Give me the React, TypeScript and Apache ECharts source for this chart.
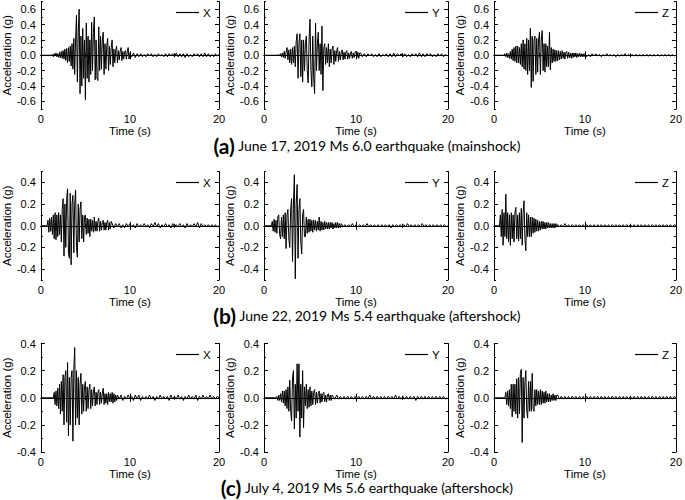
import React, { useEffect, useRef } from 'react';
import * as echarts from 'echarts';

// Sampling steps (s) of the read-off values
const DT_MAIN = 0.1;
const DT_TAIL = 0.2;

const COMPONENTS = ['X', 'Y', 'Z'];
const CAPTION_TAGS = ['(a)', '(b)', '(c)'];
const CAPTION_TEXTS = [
  'June 17, 2019 Ms 6.0 earthquake (mainshock)',
  'June 22, 2019 Ms 5.4 earthquake (aftershock)',
  'July 4, 2019 Ms 5.6 earthquake (aftershock)',
];
const X_TICKS = [0, 10, 20];
const ROW_YMAX = [0.7, 0.5, 0.4];
const ROW_MAJOR = [
  [-0.6, -0.4, -0.2, 0, 0.2, 0.4, 0.6],
  [-0.4, -0.2, 0, 0.2, 0.4],
  [-0.4, -0.2, 0, 0.2, 0.4],
];
const ROW_MINOR = [
  [-0.7, -0.5, -0.3, -0.1, 0.1, 0.3, 0.5, 0.7],
  [-0.5, -0.3, -0.1, 0.1, 0.3, 0.5],
  [-0.3, -0.1, 0.1, 0.3],
];

// ---- (a) mainshock, acceleration in g ----
const aXStart = 1.2;
const aXMain = [0, 0.01, -0.02, 0.02, -0.01, 0.03, -0.02, 0.02, -0.03, 0.04, -0.03, 0.05, -0.04, 0.06, -0.05, 0.08, -0.07, 0.09, -0.1, 0.1,
  -0.08, 0.12, -0.14, 0.15, -0.18, 0.22, -0.25, 0.2, 0.52, -0.35, 0.3, 0.6, -0.5, 0.25, -0.4, 0.35, -0.3, 0.2, -0.58, 0.42,
  -0.3, 0.25, -0.35, 0.2, -0.25, 0.43, -0.2, 0.3, 0.5, -0.32, 0.2, -0.3, -0.33, 0.37, -0.2, 0.25, -0.18, 0.2, 0.3, -0.25,
  0.15, -0.18, 0.12, 0.22, -0.2, 0.12, -0.12, 0.1, 0.2, -0.15, 0.08, -0.1, 0.06, 0.12, -0.1, 0.06, -0.06, 0.05, 0.1, -0.07,
  0.05, -0.05, 0.04, 0.06, -0.05, 0.04, 0.1, -0.05];
const aXTail = [0.03, -0.02, 0.03, -0.03, 0.02, -0.02, 0.02, -0.02, 0.01, -0.02, 0.02, -0.01, 0.02, -0.02, 0.01, -0.02, 0.02, -0.01, 0.01, -0.02,
  0.02, -0.02, 0.02, -0.01, 0.02, -0.02, 0.03, -0.02, 0.02, -0.02, 0.02, -0.03, 0.02, -0.02, 0.01, -0.02, 0.02, -0.01, 0.02, -0.02,
  0.02, -0.02, 0.03, -0.02, 0.02, -0.02, 0.01, -0.02, 0.02, -0.01, 0.01];

const aYStart = 1.5;
const aYMain = [0, 0.01, -0.01, 0.02, -0.02, 0.03, -0.03, 0.05, -0.04, 0.04, 0.1, -0.06, 0.07, -0.1, 0.08, -0.12, 0.1, -0.1, 0.12, -0.15,
  0.18, 0.28, -0.3, 0.15, 0.28, -0.28, 0.2, -0.35, 0.2, -0.2, 0.15, 0.25, -0.2, -0.36, 0.2, 0.47, -0.2, -0.41, 0.25, -0.3,
  -0.5, 0.42, -0.2, 0.15, 0.3, -0.2, 0.15, -0.25, 0.38, -0.46, 0.1, 0.15, -0.12, 0.1, -0.1, 0.15, -0.15, 0.08, -0.1, 0.08,
  0.12, -0.12, 0.06, -0.08, 0.06, 0.1, -0.08, 0.05, -0.06, 0.04, 0.07, -0.06, 0.04, -0.05, 0.04, 0.06, -0.05, 0.03, -0.04, 0.03,
  0.05, -0.04, 0.03, -0.03, 0.04, 0.05, -0.03, 0.04, -0.04, 0.03];
const aYTail = [0.03, -0.02, 0.02, -0.02, 0.02, -0.01, 0.02, -0.02, 0.01, -0.02, 0.02, -0.02, 0.01, -0.01, 0.02, -0.02, 0.02, -0.02, 0.03, -0.02,
  0.02, -0.01, 0.02, -0.02, 0.02, -0.02, 0.01, -0.02, 0.02, -0.01, 0.02, -0.02, 0.03, -0.02, 0.02, -0.02, 0.02, -0.01, 0.02, -0.02,
  0.01, -0.02, 0.02, -0.01, 0.02, -0.02, 0.01, -0.01];

const aZStart = 1.1;
const aZMain = [0, 0.02, -0.02, 0.03, -0.03, 0.02, -0.04, 0.05, -0.05, 0.08, -0.07, 0.1, -0.08, 0.12, -0.1, 0.12, -0.1, 0.1, -0.12, 0.15,
  -0.15, 0.2, -0.18, 0.15, -0.2, 0.22, -0.25, 0.2, -0.2, 0.35, -0.42, 0.25, -0.34, 0.2, 0.25, -0.25, 0.22, -0.22, 0.2, 0.3,
  -0.25, 0.2, 0.32, -0.2, 0.15, -0.22, 0.15, -0.15, 0.12, -0.15, 0.3, -0.19, 0.1, -0.1, 0.08, -0.08, 0.07, -0.08, 0.06, -0.07,
  0.06, -0.06, 0.05, -0.05, 0.06, -0.04, 0.04, -0.05, 0.04, 0.05, -0.04, 0.04, -0.03, 0.03, -0.04, 0.03, -0.03, 0.03, -0.02, 0.03,
  -0.03, 0.02, -0.02, 0.03, -0.02, 0.02, -0.02, 0.02, -0.02];
const aZTail = [0.02, -0.02, 0.01, -0.02, 0.02, -0.01, 0.02, -0.01, 0.01, -0.02, 0.01, -0.01, 0.02, -0.01, 0.01, -0.01, 0.01, -0.02, 0.01, -0.01,
  0.01, -0.01, 0.02, -0.01, 0.01, -0.01, 0.01, -0.01, 0.01, -0.01, 0.01, -0.01, 0.01, -0.01, 0.01, -0.01, 0.01, -0.01, 0.01, -0.01,
  0.01, -0.01, 0.01, -0.01, 0.01, -0.01, 0.01, -0.01, 0.01, -0.01, 0];

// ---- (b) June 22 aftershock ----
const bXStart = 0.7;
const bXMain = [0, 0.05, -0.06, 0.07, -0.05, 0.08, -0.08, 0.1, -0.12, 0.12, -0.13, 0.1, -0.1, 0.12, -0.08, 0.1, -0.15, 0.15, 0.25, -0.28,
  0.2, -0.2, 0.25, 0.34, -0.25, -0.3, 0.3, -0.36, 0.2, 0.28, -0.25, 0.2, 0.33, -0.2, -0.29, 0.2, -0.15, 0.15, 0.22, -0.12,
  0.1, -0.15, 0.08, 0.1, -0.08, 0.07, -0.07, 0.06, -0.1, 0.06, -0.05, 0.05, -0.06, 0.08, -0.05, 0.04, -0.05, 0.04, 0.07, -0.05,
  0.04, -0.04, 0.03, 0.05, -0.04, 0.03, -0.04, 0.03, 0.05, -0.04, 0.03, -0.03, 0.04];
const bXTail = [0.02, -0.02, 0.02, -0.01, 0.02, -0.02, 0.01, -0.02, 0.02, -0.01, 0.02, -0.01, 0.01, -0.02, 0.02, -0.01, 0.01, -0.01, 0.02, -0.01,
  0.01, -0.02, 0.02, -0.01, 0.03, -0.01, 0.02, -0.02, 0.01, -0.01, 0.02, -0.01, 0.01, -0.02, 0.02, -0.01, 0.01, -0.01, 0.02, -0.01,
  0.01, -0.02, 0.02, -0.01, 0.01, -0.01, 0.02, -0.01, 0.03, -0.02, 0.02, -0.01, 0.01, -0.01, 0.01, -0.01, 0.01, -0.01, 0.01, -0.01, 0];

const bYStart = 0.8;
const bYMain = [0, 0.04, -0.05, 0.06, -0.06, 0.05, -0.07, 0.08, 0.1, -0.08, -0.12, 0.08, -0.1, 0.1, -0.12, 0.12, -0.21, 0.1, 0.15, -0.12,
  -0.2, 0.15, 0.25, -0.33, 0.2, 0.47, -0.49, 0.2, 0.38, -0.3, 0.15, 0.25, -0.15, -0.26, 0.1, 0.15, -0.1, -0.1, 0.08, -0.07,
  0.06, -0.06, 0.06, -0.05, 0.05, -0.06, 0.05, -0.04, 0.05, -0.05, 0.04, -0.04, 0.08, -0.05, 0.04, -0.04, 0.03, -0.04, 0.04, -0.03,
  0.03, -0.03, 0.03, -0.03, 0.03, -0.02, 0.03, -0.03, 0.02, -0.02, 0.03, -0.02, 0.03, -0.02, 0.02, -0.02];
const bYTail = [0.02, -0.01, 0.01, -0.01, 0.01, -0.01, 0.02, -0.01, 0.01, -0.01, 0.01, -0.01, 0.01, -0.01, 0.02, -0.01, 0.01, -0.01, 0.01, -0.01,
  0.01, -0.01, 0.01, -0.01, 0.01, -0.01, 0.01, -0.02, 0.01, -0.01, 0.01, -0.01, 0.01, -0.01, 0.01, -0.01, 0.02, -0.01, 0.01, -0.01,
  0.01, -0.01, 0.01, -0.01, 0.02, -0.01, 0.01, -0.01, 0.01, -0.01, 0.01, -0.01, 0.01, -0.01, 0.01, -0.01, 0.01, -0.01, 0];

const bZStart = 0.6;
const bZMain = [0, 0.1, -0.1, 0.15, -0.18, 0.12, -0.1, 0.29, -0.12, 0.12, -0.15, 0.1, -0.18, 0.12, -0.12, 0.1, -0.15, 0.12, 0.17, -0.12,
  0.1, -0.14, 0.12, -0.12, 0.16, -0.18, 0.12, 0.23, -0.12, -0.23, 0.12, -0.1, 0.1, -0.1, 0.08, -0.1, 0.08, -0.07, 0.07, -0.06,
  0.06, -0.05, 0.05, -0.05, 0.04, -0.04, 0.04, -0.03, 0.04, -0.03, 0.03, -0.03, 0.03, -0.02, 0.03, -0.02, 0.02, -0.02, 0.02, -0.02,
  0.02, -0.02, 0.02, -0.01];
const bZTail = [0.01, -0.01, 0.01, -0.01, 0.02, -0.01, 0.01, -0.01, 0.01, -0.01, 0.01, -0.01, 0.01, -0.01, 0.01, -0.01, 0.01, -0.01, 0.01, -0.01,
  0.01, -0.01, 0.01, -0.01, 0.01, -0.01, 0.01, -0.01, 0.01, -0.01, 0.01, -0.01, 0.01, -0.01, 0.01, -0.01, 0.01, -0.01, 0.01, -0.01,
  0.01, -0.01, 0.01, -0.01, 0.01, -0.01, 0.01, -0.01, 0.01, -0.01, 0.01, -0.01, 0.01, -0.01, 0.01, -0.01, 0.01, -0.01, 0.01, -0.01,
  0.01, -0.01, 0.01, -0.01, 0.01, 0];

// ---- (c) July 4 aftershock ----
const cXStart = 1.4;
const cXMain = [0, 0.04, -0.05, 0.05, -0.06, 0.07, -0.08, 0.1, -0.12, 0.12, -0.1, 0.17, -0.2, 0.15, 0.2, -0.18, 0.26, -0.28, 0.15, -0.2,
  0.15, 0.2, -0.32, 0.2, 0.37, -0.2, 0.2, -0.15, 0.15, -0.2, 0.1, 0.18, -0.12, 0.1, -0.1, 0.08, 0.12, -0.1, 0.08, -0.08,
  0.06, 0.1, -0.08, 0.06, -0.06, 0.05, 0.08, -0.06, 0.04, -0.05, 0.04, 0.06, -0.05, 0.04, -0.04, 0.03, 0.07, -0.05, 0.03, -0.04,
  0.03, -0.05, 0.04, -0.03, 0.03, -0.03, 0.04, -0.04, 0.03, -0.03, 0.02, -0.02];
const cXTail = [0.02, -0.01, 0.02, -0.02, 0.01, -0.01, 0.02, -0.01, 0.01, -0.02, 0.02, -0.01, 0.02, -0.02, 0.01, -0.01, 0.01, -0.01, 0.02, -0.01,
  0.01, -0.02, 0.01, -0.01, 0.02, -0.01, 0.01, -0.01, 0.01, -0.02, 0.02, -0.01, 0.01, -0.01, 0.02, -0.01, 0.01, -0.02, 0.01, -0.01,
  0.02, -0.01, 0.01, -0.01, 0.02, -0.02, 0.01, -0.01, 0.02, -0.01, 0.01, -0.01, 0.02, -0.01, 0.01, -0.01, 0.01, 0];

const cYStart = 1.3;
const cYMain = [0, 0.01, -0.02, 0.02, -0.02, 0.03, -0.03, 0.05, -0.04, 0.05, -0.06, 0.06, -0.08, 0.08, -0.1, 0.13, -0.1, -0.17, 0.15, 0.2,
  -0.23, 0.1, -0.15, 0.25, -0.1, 0.25, -0.29, 0.1, -0.15, 0.2, -0.22, 0.08, -0.06, 0.1, -0.08, 0.06, -0.07, 0.08, -0.06, 0.05,
  -0.05, 0.04, 0.06, -0.05, 0.04, -0.04, 0.03, 0.05, -0.04, 0.03, -0.03, 0.03, 0.04, -0.03, 0.02, -0.03, 0.02, 0.03, -0.02, 0.02,
  -0.02, 0.02];
const cYTail = [0.01, -0.01, 0.02, -0.01, 0.01, -0.01, 0.01, -0.01, 0.01, -0.01, 0.01, -0.01, 0.01, -0.01, 0.01, -0.01, 0.01, -0.01, 0.01, -0.01,
  0.02, -0.01, 0.01, -0.01, 0.01, -0.01, 0.01, -0.01, 0.01, -0.01, 0.01, -0.01, 0.01, -0.01, 0.02, -0.01, 0.01, -0.01, 0.01, -0.01,
  0.01, -0.01, 0.01, -0.01, 0.01, -0.02, 0.01, -0.01, 0.01, -0.01, 0.01, -0.01, 0.01, -0.01, 0.01, -0.01, 0.01, -0.01, 0.01, -0.01,
  0.01, -0.01, 0];

const cZStart = 1.2;
const cZMain = [0, 0.04, -0.05, 0.05, -0.06, 0.06, -0.08, 0.1, -0.14, 0.1, -0.1, 0.1, -0.12, 0.14, -0.15, 0.15, -0.12, 0.18, 0.21, -0.33,
  0.15, -0.15, 0.12, 0.2, -0.1, -0.15, 0.12, -0.1, 0.12, -0.1, 0.18, -0.08, -0.1, 0.06, -0.06, 0.06, -0.05, 0.05, -0.05, 0.06,
  -0.05, 0.05, -0.04, 0.04, -0.04, 0.05, -0.03, 0.03, -0.03, 0.03, -0.03, 0.02, -0.02, 0.03, -0.02, 0.02, -0.02, 0.02];
const cZTail = [0.02, -0.01, 0.01, -0.01, 0.01, -0.01, 0.01, -0.01, 0.01, -0.01, 0.01, -0.01, 0.01, -0.01, 0.01, -0.01, 0.01, -0.01, 0.01, -0.01,
  0.01, -0.01, 0.01, -0.01, 0.01, -0.01, 0.01, -0.01, 0.01, -0.01, 0.01, -0.01, 0.01, -0.01, 0.01, -0.01, 0.01, -0.01, 0.01, -0.01,
  0.01, -0.01, 0.01, -0.01, 0.01, -0.01, 0.01, -0.01, 0.01, -0.01, 0.01, -0.01, 0.01, -0.01, 0.01, -0.01, 0.01, -0.01, 0.01, -0.01,
  0.01, -0.01, 0.01, -0.01, 0.01, 0];

const TRACES = [
  [aXStart, aXMain, aXTail], [aYStart, aYMain, aYTail], [aZStart, aZMain, aZTail],
  [bXStart, bXMain, bXTail], [bYStart, bYMain, bYTail], [bZStart, bZMain, bZTail],
  [cXStart, cXMain, cXTail], [cYStart, cYMain, cYTail], [cZStart, cZMain, cZTail],
] as const;

// ---- layout (px) ----
const COL_LEFT = [34, 264, 494];
const COL_W = [185, 184, 184];
const ROW_TOP = [1.5, 171.5, 343.5];
const ROW_H = [107.5, 108.5, 108.5];
const CAPTION_Y = [145, 315, 487];
const CAPTION_X = 367;
const FONT = "'Liberation Sans', Arial, sans-serif";

function buildTrace(start: number, main: readonly number[], tail: readonly number[]) {
  const pts: number[][] = [[0, 0]];
  main.forEach((v, i) => pts.push([+(start + i * DT_MAIN).toFixed(2), v]));
  const t1 = start + main.length * DT_MAIN;
  tail.forEach((v, i) => {
    const t = +(t1 + i * DT_TAIL).toFixed(2);
    if (t <= 20) pts.push([t, v]);
  });
  return pts;
}

function buildOption() {
  const grid: any[] = [];
  const xAxis: any[] = [];
  const yAxis: any[] = [];
  const series: any[] = [];
  const legend: any[] = [];
  const line = { show: true, lineStyle: { color: '#000', width: 1 } };
  for (let r = 0; r < 3; r++) {
    for (let c = 0; c < 3; c++) {
      const idx = r * 3 + c;
      grid.push({ left: COL_LEFT[c], top: ROW_TOP[r], width: COL_W[c], height: ROW_H[r] });
      const xBase = {
        type: 'value', gridIndex: idx, min: X_TICKS[0], max: X_TICKS[2], interval: 10,
        axisLine: line, splitLine: { show: false },
        axisTick: { inside: true, length: 4, lineStyle: { color: '#000' } },
        minorTick: { show: true, splitNumber: 2, length: 2, lineStyle: { color: '#000' } },
      };
      xAxis.push({
        ...xBase, position: 'bottom',
        axisLabel: { fontSize: 11, color: '#000', fontFamily: FONT, margin: 4 },
        name: 'Time (s)', nameLocation: 'middle', nameGap: 14,
        nameTextStyle: { fontSize: 11.5, color: '#000', fontFamily: FONT },
      });
      xAxis.push({ ...xBase, position: 'top', axisLabel: { show: false } });
      const ymax = ROW_YMAX[r];
      const major = ROW_MAJOR[r];
      const minor = ROW_MINOR[r];
      const yBase = { type: 'value', gridIndex: idx, min: -ymax, max: ymax, splitLine: { show: false } };
      const fmt = (v: number) => (Math.abs(v) < 1e-9 ? 0 : v).toFixed(1);
      yAxis.push({
        ...yBase, position: 'left', axisLine: line,
        axisTick: { inside: true, length: 4, customValues: major, lineStyle: { color: '#000' } },
        axisLabel: { customValues: major, formatter: fmt, fontSize: 11, color: '#000', fontFamily: FONT, margin: 5 },
        name: 'Acceleration (g)', nameLocation: 'middle', nameGap: c === 0 ? 22 : 26,
        nameTextStyle: { fontSize: 11.5, color: '#000', fontFamily: FONT },
      });
      yAxis.push({
        ...yBase, position: 'left', axisLine: { show: false },
        axisTick: { inside: true, length: 2, customValues: minor, lineStyle: { color: '#000' } },
        axisLabel: { show: false },
      });
      yAxis.push({
        ...yBase, position: 'right', axisLine: line,
        axisTick: { inside: true, length: 4, customValues: major, lineStyle: { color: '#000' } },
        axisLabel: { show: false },
      });
      yAxis.push({
        ...yBase, position: 'right', axisLine: { show: false },
        axisTick: { inside: true, length: 2, customValues: minor, lineStyle: { color: '#000' } },
        axisLabel: { show: false },
      });
      const [start, main, tail] = TRACES[idx];
      series.push({
        type: 'line', name: COMPONENTS[c], xAxisIndex: idx * 2, yAxisIndex: idx * 4,
        data: buildTrace(start, main, tail), showSymbol: false, symbol: 'none',
        lineStyle: { color: '#000', width: 1 }, itemStyle: { color: '#000' }, clip: true,
      });
      legend.push({
        data: [COMPONENTS[c]], left: COL_LEFT[c] + COL_W[c] - 43, top: ROW_TOP[r] + 5,
        icon: 'rect', itemWidth: 23, itemHeight: 1.2, itemGap: 0, padding: 0, selectedMode: false,
        textStyle: { fontSize: 11.5, color: '#000', fontFamily: FONT, padding: [0, 0, 0, -1] },
      });
    }
  }
  const graphic = CAPTION_TAGS.map((tag, i) => ({
    type: 'text', x: CAPTION_X, y: CAPTION_Y[i],
    style: {
      text: `{b|${tag}}{n| ${CAPTION_TEXTS[i]}}`,
      align: 'center', verticalAlign: 'middle',
      rich: {
        b: { fontFamily: 'Lato', fontWeight: 'bold', fontSize: 21, fill: '#000', color: '#000', lineHeight: 22 },
        n: { fontFamily: 'Lato', fontSize: 14, fill: '#000', color: '#000', lineHeight: 22 },
      },
    },
  }));
  return { animation: false, backgroundColor: '#fff', grid, xAxis, yAxis, series, legend, graphic };
}

export default function App() {
  const ref = useRef<HTMLDivElement>(null);
  useEffect(() => {
    if (!ref.current) return;
    const chart = echarts.init(ref.current, undefined, { renderer: 'svg' });
    chart.setOption(buildOption() as any);
    return () => chart.dispose();
  }, []);
  return <div ref={ref} style={{ position: 'absolute', left: 0, top: 0, width: 685, height: 500 }} />;
}
